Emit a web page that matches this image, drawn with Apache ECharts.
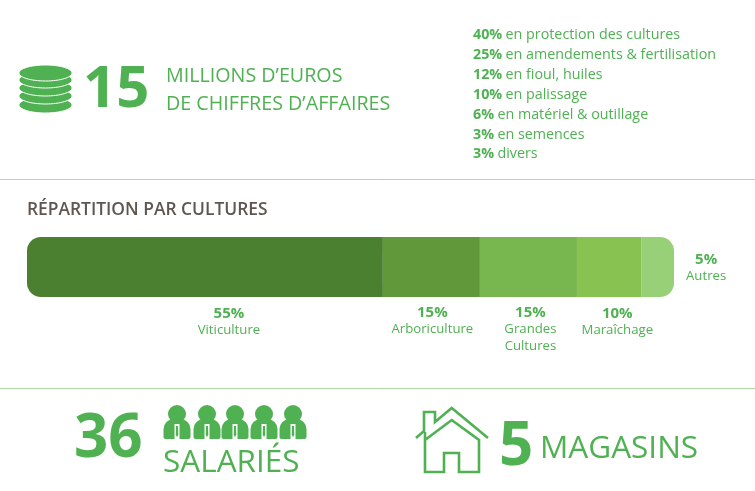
<!DOCTYPE html>
<html><head><meta charset="utf-8">
<style>html,body{margin:0;padding:0;background:#fff}#c{width:755px;height:491px}</style>
<script src="https://cdn.jsdelivr.net/npm/echarts@6/dist/echarts.min.js"></script></head>
<body><div id="c"></div>
<script>
const cultures = ['Viticulture','Arboriculture','Grandes\nCultures','Maraîchage','Autres'];
const shares = [55,15,15,10,5];
const expenseShares = [40,25,12,10,6,3,3];
const expenseLabels = ['en protection des cultures','en amendements & fertilisation','en fioul, huiles','en palissage','en matériel & outillage','en semences','divers'];
const title = 'RÉPARTITION PAR CULTURES';
const revenue = '15', revenueLines = ['MILLIONS D’EUROS','DE CHIFFRES D’AFFAIRES'];
const staff = '36', staffLabel = 'SALARIÉS', shops = '5', shopsLabel = 'MAGASINS';

const GREEN = '#4fb152', FONT = '"Open Sans"';
const barColors = ['#4a8030','#60983a','#78b64f','#88c250','#98d078'];
const labelOffsets = [[24,2],[1,1],[2,1],[8,2],[0,1]];

const rich = {
  v:{fontFamily:FONT,fontWeight:700,fontSize:15,color:GREEN,lineHeight:17,align:'center'},
  n:{fontFamily:FONT,fontSize:13.2,color:GREEN,lineHeight:17,align:'center'}
};
const series = shares.map((s,i)=>({
  type:'bar',stack:'t',barWidth:60,silent:true,
  data:[s],
  itemStyle:{color:barColors[i],borderRadius:i===0?[14,0,0,14]:i===shares.length-1?[0,14,14,0]:0},
  label:{show:true,position:i===shares.length-1?'right':'bottom',distance:i===shares.length-1?12:6,offset:labelOffsets[i],
    formatter:()=>`{v|${s}%}\n`+cultures[i].split('\n').map(t=>`{n|${t}}`).join('\n'),rich}
}));

function txt(x,y,text,size,opt={}){
  return {type:'text',x,y,silent:true,style:Object.assign({text,fontFamily:FONT,fontSize:size,fill:GREEN,verticalAlign:'middle'},opt)};
}
const g=[];
[179,388].forEach(y=>g.push({type:'line',silent:true,shape:{x1:0,y1:y+.5,x2:755,y2:y+.5},style:{stroke:'#aedaa6',lineWidth:1}}));
[105,96,88,80,73].forEach(cy=>g.push({type:'ellipse',silent:true,shape:{cx:45.5,cy,rx:26.5,ry:8},style:{fill:GREEN,stroke:'#fff',lineWidth:1}}));
g.push(txt(83,90,revenue,58,{fontWeight:700}));
revenueLines.forEach((t,i)=>g.push(txt(166,76+i*28,t,19.7)));
expenseLabels.forEach((t,i)=>{
  g.push({type:'text',x:473,y:[35,55,75,95,115,135,154][i],silent:true,style:{
    text:`{b|${expenseShares[i]}%} {r|${t}}`,verticalAlign:'middle',
    rich:{b:{fontFamily:FONT,fontWeight:700,fontSize:14.3,fill:GREEN},r:{fontFamily:FONT,fontSize:14.3,fill:GREEN}}}});
});
g.push(txt(27,210,title,17.4,{fill:'#5f5650',fontWeight:600}));
g.push(txt(74,440,staff,60,{fontWeight:700}));
[177,207,235,264,293].forEach(x=>{
  g.push({type:'circle',silent:true,shape:{cx:x,cy:414,r:9},style:{fill:GREEN}});
  g.push({type:'rect',silent:true,shape:{x:x-13.5,y:419,width:27,height:20,r:[10,10,2,2]},style:{fill:GREEN}});
  g.push({type:'polygon',silent:true,shape:{points:[[x-2.5,424],[x+2.5,424],[x+2.5,439],[x-2.5,439]]},style:{fill:'#fff'}});
  g.push({type:'polygon',silent:true,shape:{points:[[x-1,426],[x+1,426],[x+1.3,435],[x,437],[x-1.3,435]]},style:{fill:GREEN}});
});
g.push(txt(163,463,staffLabel,31.5));
const hs={stroke:GREEN,lineWidth:2.6,fill:null,lineJoin:'miter'};
g.push({type:'polyline',silent:true,shape:{points:[[416,438],[424,431],[424,412],[435,412],[435,422],[451.7,408],[488,438]]},style:hs});
g.push({type:'polyline',silent:true,shape:{points:[[425,432],[425,472],[444,472],[444,453],[459,453],[459,472],[479,472],[479,440],[451.7,420],[425,440]]},style:hs});
g.push(txt(499,447.5,shops,60,{fontWeight:700}));
g.push(txt(540,449,shopsLabel,31.5));

const chart=echarts.init(document.getElementById('c'),null,{renderer:'canvas'});
chart.setOption({
  animation:false,
  backgroundColor:'#fff',
  grid:{left:27,right:81,top:237,height:60,containLabel:false},
  xAxis:{type:'value',min:0,max:100,show:false},
  yAxis:{type:'category',data:['Cultures'],show:false},
  series,
  graphic:{elements:g}
});
</script></body></html>
